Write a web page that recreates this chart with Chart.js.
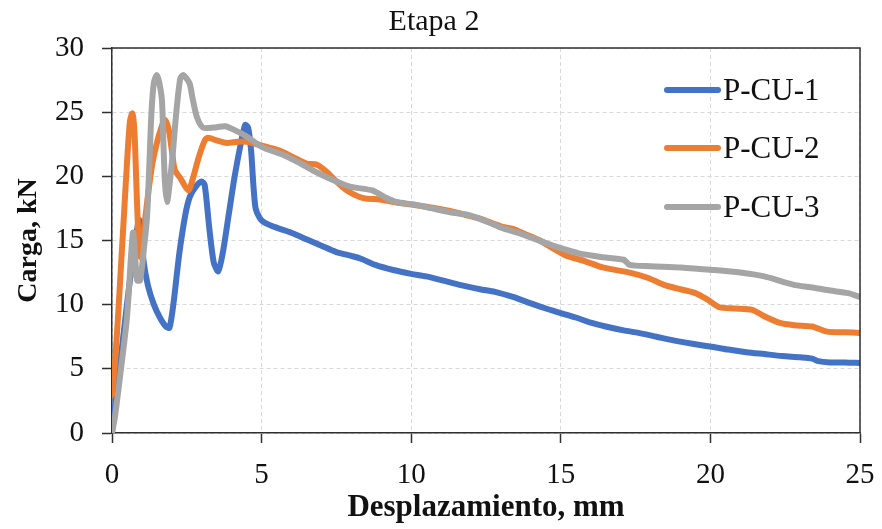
<!DOCTYPE html>
<html>
<head>
<meta charset="utf-8">
<script src="https://cdn.jsdelivr.net/npm/chart.js@4.4.1/dist/chart.umd.min.js"></script>
<style>
  html, body { margin: 0; padding: 0; background: #ffffff; }
  canvas { display: block; }
</style>
</head>
<body>
<canvas id="chart" width="882" height="529"></canvas>
<script>
// Load–displacement curves, stage 2
const chartTitle = 'Etapa 2';
const xTitle = 'Desplazamiento, mm';
const yTitle = 'Carga, kN';
const seriesNames = ['P-CU-1', 'P-CU-2', 'P-CU-3'];
const seriesColors = ['#4472C4', '#ED7D31', '#A5A5A5'];

const cu1Disp = [0, 0.15, 0.35, 0.55, 0.75, 0.9, 0.97, 1.05, 1.2, 1.4, 1.6, 1.8, 1.92, 2.05, 2.25, 2.45, 2.6, 2.8, 3.0, 3.1, 3.25, 3.4, 3.55, 3.7, 3.9, 4.1, 4.3, 4.45, 4.55, 4.65, 4.72, 4.8, 4.95, 5.1, 5.5, 6.0, 6.5, 7.0, 7.5, 8.0, 8.3, 8.8, 9.4, 10, 10.5, 11.2, 11.7, 12.3, 12.8, 13.4, 14.0, 14.5, 15, 15.5, 16, 16.5, 17.1, 17.6, 18.2, 18.8, 19.4, 20.1, 20.6, 21.2, 21.8, 22.4, 23.0, 23.4, 23.6, 24.0, 24.5, 25];
const cu1Load = [0, 3, 7, 11, 14.5, 16.6, 16.2, 13.5, 11.5, 10, 9, 8.3, 8.2, 10, 14, 17, 18.4, 19.2, 19.6, 19.3, 16, 13.3, 12.6, 14, 17, 20, 22.5, 24, 23.8, 22, 19.5, 17.5, 16.7, 16.4, 16, 15.6, 15.1, 14.6, 14.1, 13.8, 13.6, 13.1, 12.7, 12.4, 12.2, 11.8, 11.5, 11.2, 11.0, 10.6, 10.1, 9.7, 9.35, 9.0, 8.6, 8.3, 8.0, 7.8, 7.5, 7.2, 6.95, 6.7, 6.5, 6.3, 6.15, 6.0, 5.9, 5.8, 5.6, 5.5, 5.5, 5.45];

const cu2Disp = [0, 0.1, 0.2, 0.3, 0.4, 0.5, 0.6, 0.68, 0.75, 0.82, 0.88, 0.95, 1.05, 1.2, 1.35, 1.5, 1.65, 1.77, 1.9, 2.0, 2.1, 2.3, 2.55, 2.7, 2.9, 3.1, 3.2, 3.5, 3.84, 4.2, 4.5, 5.0, 5.6, 6.05, 6.5, 6.85, 7.2, 7.5, 7.85, 8.4, 8.96, 9.4, 10, 10.6, 11.3, 11.8, 12.3, 13.0, 13.4, 13.8, 14.3, 14.8, 15.2, 15.8, 16.4, 17.3, 17.9, 18.5, 19.0, 19.5, 19.9, 20.3, 20.8, 21.4, 21.8, 22.3, 22.8, 23.4, 23.9, 24.5, 25];
const cu2Load = [3, 5.5, 9, 13, 17, 21, 24.3, 24.9, 23.5, 19, 15.5, 13.7, 15.5, 18.5, 21, 22.6, 23.8, 24.4, 23.6, 22, 20.5, 19.8, 18.9, 19.8, 21.5, 22.8, 23.0, 22.8, 22.6, 22.7, 22.7, 22.4, 22.0, 21.5, 21.0, 20.9, 20.3, 19.6, 18.9, 18.3, 18.2, 18.0, 17.8, 17.6, 17.3, 17.0, 16.7, 16.1, 15.9, 15.5, 15.0, 14.3, 13.8, 13.4, 12.9, 12.5, 12.1, 11.5, 11.2, 10.9, 10.4, 9.8, 9.7, 9.6, 9.1, 8.6, 8.4, 8.3, 7.9, 7.85, 7.8];

const cu3Disp = [0, 0.1, 0.3, 0.5, 0.7, 0.78, 0.84, 0.94, 1.05, 1.17, 1.25, 1.32, 1.4, 1.5, 1.58, 1.67, 1.72, 1.77, 1.84, 1.93, 2.04, 2.15, 2.28, 2.38, 2.5, 2.6, 2.7, 2.84, 3.04, 3.4, 3.78, 4.1, 4.5, 5.0, 5.7, 6.3, 6.85, 7.4, 7.95, 8.7, 9.1, 9.5, 10.1, 10.7, 11.3, 11.9, 12.5, 13.0, 13.7, 14.5, 15.0, 15.6, 16.4, 17.1, 17.3, 18.0, 19.0, 20.1, 21.0, 21.8, 22.4, 22.9, 23.5, 24.0, 24.6, 25];
const cu3Load = [0, 1.3, 5, 9, 15.6, 13.5, 11.9, 11.9, 14, 16.8, 21, 25, 27.3, 27.9, 27.3, 25.9, 22.5, 19.5, 18.0, 19.5, 22, 25, 27.6, 27.9, 27.6, 27.2, 26, 24.6, 23.8, 23.8, 23.9, 23.6, 23.1, 22.3, 21.7, 21.0, 20.3, 19.7, 19.2, 18.9, 18.4, 18.0, 17.8, 17.5, 17.2, 17.0, 16.5, 16.0, 15.5, 14.8, 14.4, 14.0, 13.7, 13.5, 13.1, 13.0, 12.9, 12.7, 12.5, 12.2, 11.8, 11.5, 11.3, 11.1, 10.9, 10.6];

const xTicks = [0, 5, 10, 15, 20, 25];
const yTicks = [0, 5, 10, 15, 20, 25, 30];

const toPoints = (xs, ys) => xs.map((x, i) => ({ x: x, y: ys[i] }));
const seriesData = [toPoints(cu1Disp, cu1Load), toPoints(cu2Disp, cu2Load), toPoints(cu3Disp, cu3Load)];

const serif = '"Liberation Serif", "Times New Roman", serif';
const gridColor = '#d9d9d9';
const axisColor = '#303030';

// title, frame and in-plot legend
const decorations = {
  id: 'decorations',
  afterDraw(chart) {
    const { ctx, chartArea: a } = chart;
    ctx.save();
    // top and right edges of the plot frame
    ctx.strokeStyle = axisColor;
    ctx.lineWidth = 1.5;
    ctx.beginPath();
    ctx.moveTo(a.left, a.top);
    ctx.lineTo(a.right, a.top);
    ctx.lineTo(a.right, a.bottom);
    ctx.stroke();

    // chart title
    ctx.fillStyle = '#111';
    ctx.font = '30px ' + serif;
    ctx.textAlign = 'center';
    ctx.textBaseline = 'alphabetic';
    ctx.fillText(chartTitle, 434, 30);

    // legend
    const rows = [90, 148, 207];
    ctx.font = '31px ' + serif;
    ctx.textAlign = 'left';
    ctx.textBaseline = 'middle';
    chart.data.datasets.forEach((ds, i) => {
      const y = rows[i];
      ctx.strokeStyle = ds.borderColor;
      ctx.lineWidth = 6;
      ctx.lineCap = 'round';
      ctx.beginPath();
      ctx.moveTo(667, y);
      ctx.lineTo(718, y);
      ctx.stroke();
      ctx.fillStyle = '#111';
      ctx.fillText(ds.label, 723, y + 2);
    });
    ctx.restore();
  }
};

new Chart(document.getElementById('chart'), {
  type: 'line',
  data: {
    datasets: seriesNames.map((name, i) => ({
      label: name,
      data: seriesData[i],
      borderColor: seriesColors[i],
      backgroundColor: seriesColors[i],
      borderWidth: 6,
      borderCapStyle: 'round',
      borderJoinStyle: 'round',
      pointRadius: 0,
      tension: 0.25,
      fill: false,
      order: 3 - i
    }))
  },
  options: {
    responsive: false,
    animation: false,
    layout: { padding: { top: 48, right: 22, left: 0, bottom: 0 } },
    plugins: {
      legend: { display: false },
      title: { display: false },
      tooltip: { enabled: false }
    },
    scales: {
      x: {
        type: 'linear',
        min: 0,
        max: 25,
        afterBuildTicks(scale) { scale.ticks = xTicks.map(v => ({ value: v })); },
        afterFit(scale) { scale.height = 96; scale.paddingLeft = 0; scale.paddingRight = 0; },
        ticks: { color: '#111', font: { family: serif, size: 29 }, padding: 15, maxRotation: 0 },
        grid: { color: gridColor, lineWidth: 1, tickColor: axisColor, tickLength: 10, tickWidth: 1.5, tickBorderDash: [1, 0] },
        border: { color: axisColor, width: 1.5, dash: [4, 3] },
        title: { display: true, text: xTitle, color: '#111', font: { family: serif, size: 31, weight: 'bold' }, padding: { top: 0, bottom: 2 } }
      },
      y: {
        type: 'linear',
        min: 0,
        max: 30,
        afterBuildTicks(scale) { scale.ticks = yTicks.map(v => ({ value: v })); },
        afterFit(scale) { scale.width = 112; scale.paddingTop = 0; scale.paddingBottom = 0; },
        ticks: { color: '#111', font: { family: serif, size: 29 }, padding: 18 },
        grid: { color: gridColor, lineWidth: 1, tickColor: axisColor, tickLength: 10, tickWidth: 1.5, tickBorderDash: [1, 0] },
        border: { color: axisColor, width: 1.5, dash: [4, 3] },
        title: { display: true, text: yTitle, color: '#111', font: { family: serif, size: 28, weight: 'bold' }, padding: { top: 12, bottom: 0 } }
      }
    }
  },
  plugins: [decorations]
});
</script>
</body>
</html>
